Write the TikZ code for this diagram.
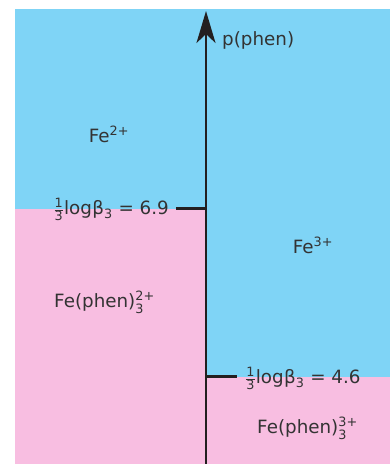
\documentclass[tikz,border=0pt]{standalone}
\usepackage{amsmath}
\usepackage{fontspec}
\setmainfont{DejaVu Sans}
\usetikzlibrary{arrows.meta}
\definecolor{bluereg}{RGB}{127,212,246}
\definecolor{pinkreg}{RGB}{248,190,225}
\definecolor{txt}{RGB}{51,51,51}
\definecolor{axis}{RGB}{35,31,32}
\newcommand{\third}{$\frac{\text{1}}{\text{3}}$}
\begin{document}
\begin{tikzpicture}[x=1pt,y=-1pt,
  lbl/.style={anchor=base,inner sep=0pt,text=txt,font=\fontsize{18.3}{22}\selectfont},
  axisline/.style={draw=axis,line width=2.8pt},
  ticks/.style={draw=axis,line width=2.8pt}]
\useasboundingbox (0,0) rectangle (390,464);
\fill[bluereg] (15,9) rectangle (390,464);
\fill[pinkreg] (15,208.5) rectangle (206,464);
\fill[pinkreg] (206,376.5) rectangle (390,464);
\coordinate (bot) at (206,464);
\coordinate (top) at (206,11);
\coordinate (t1a) at (176,208.5);
\coordinate (t1b) at (206,208.5);
\coordinate (t2a) at (206,376.5);
\coordinate (t2b) at (237,376.5);
\draw[axisline,-{Stealth[length=32pt,width=19pt,inset=9pt]}] (bot) -- (top);
\draw[ticks] (t1a) -- (t1b);
\draw[ticks] (t2a) -- (t2b);
\node[lbl,anchor=base west] (pphen) at (222,45) {p(phen)};
\node[lbl] (fe2) at (109,142) {Fe$^{\text{2+}}$};
\node[lbl] (fe3) at (313,253) {Fe$^{\text{3+}}$};
\node[lbl,anchor=base east] (k1) at (169,214.5) {\third log\hspace{0.5pt}β$_{\text{3}}$ = 6.9};
\node[lbl] (fp2) at (104.5,307) {Fe(phen)$^{\text{2+}}_{\text{3}}$};
\node[lbl,anchor=base west] (k2) at (245,383.5) {\third log\hspace{0.5pt}β$_{\text{3}}$ = 4.6};
\node[lbl] (fp3) at (307.5,433) {Fe(phen)$^{\text{3+}}_{\text{3}}$};
\end{tikzpicture}
\end{document}
